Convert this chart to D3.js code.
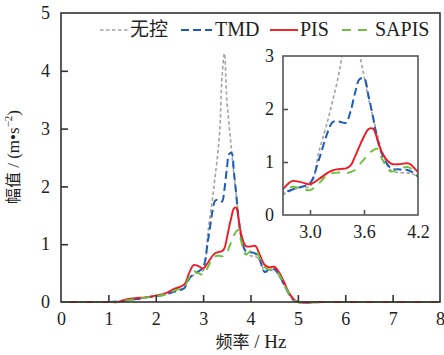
<!DOCTYPE html>
<html>
<head>
<meta charset="utf-8">
<script src="https://cdn.jsdelivr.net/npm/d3@7"></script>
<style>
  html, body { margin: 0; padding: 0; background: #fff; }
  svg { display: block; }
  text { font-family: "Liberation Serif", "Times New Roman", "Noto Sans CJK SC", serif; fill: #222; }
</style>
</head>
<body>
<svg id="chart" width="444" height="355"></svg>
<script>
// Frequency grid (Hz) shared by all series
const freq = [0, 0.5, 1.0, 1.2, 1.4, 1.6, 1.8, 2.0, 2.2, 2.4, 2.6, 2.7, 2.8, 2.9, 3.0, 3.1, 3.2, 3.25, 3.3, 3.35, 3.4, 3.45, 3.5, 3.55, 3.6, 3.65, 3.7, 3.75, 3.8, 3.9, 4.0, 4.1, 4.2, 4.3, 4.4, 4.5, 4.6, 4.7, 4.8, 4.9, 5.0, 5.5, 6, 7, 8];

// Amplitude spectra (m·s^-2)
const uncontrolled = [0, 0, 0, 0.01, 0.04, 0.06, 0.08, 0.10, 0.13, 0.19, 0.25, 0.38, 0.47, 0.52, 0.54, 1.20, 1.80, 2.15, 2.50, 2.95, 3.90, 4.30, 3.50, 3.05, 2.62, 2.20, 1.85, 1.50, 1.20, 0.84, 0.80, 0.79, 0.72, 0.52, 0.54, 0.56, 0.45, 0.30, 0.15, 0.04, 0, 0, 0, 0, 0];
const tmd          = [0, 0, 0, 0.01, 0.03, 0.05, 0.08, 0.10, 0.13, 0.18, 0.24, 0.40, 0.48, 0.53, 0.60, 1.05, 1.58, 1.75, 1.77, 1.75, 1.74, 1.95, 2.30, 2.56, 2.58, 2.25, 1.85, 1.42, 1.15, 0.88, 0.86, 0.84, 0.72, 0.52, 0.57, 0.57, 0.47, 0.32, 0.16, 0.04, 0, 0, 0, 0, 0];
const pis          = [0, 0, 0, 0, 0.05, 0.07, 0.08, 0.11, 0.15, 0.23, 0.30, 0.49, 0.64, 0.62, 0.58, 0.68, 0.80, 0.84, 0.86, 0.87, 0.88, 0.93, 1.10, 1.30, 1.48, 1.62, 1.63, 1.42, 1.18, 0.97, 0.96, 0.97, 0.81, 0.64, 0.60, 0.61, 0.52, 0.36, 0.18, 0.06, 0, 0, 0, 0, 0];
const sapis        = [0, 0, 0, 0, 0.03, 0.05, 0.08, 0.10, 0.13, 0.20, 0.26, 0.42, 0.53, 0.50, 0.47, 0.60, 0.77, 0.79, 0.80, 0.80, 0.79, 0.81, 0.85, 0.95, 1.05, 1.15, 1.22, 1.25, 1.06, 0.82, 0.88, 0.90, 0.75, 0.60, 0.56, 0.57, 0.48, 0.33, 0.17, 0.05, 0, 0, 0, 0, 0];

const seriesNames = ["无控", "TMD", "PIS", "SAPIS"];
const mainXTicks = [0, 1, 2, 3, 4, 5, 6, 7, 8];
const mainYTicks = [0, 1, 2, 3, 4, 5];
const insetXTicks = [3.0, 3.6, 4.2];
const insetYTicks = [0, 1, 2, 3];

const styles = [
  { color: "#a3a3a3", width: 1.6, dash: "3.5,2.5" },
  { color: "#1e5cb8", width: 2.0, dash: "8,4" },
  { color: "#ee1c24", width: 1.9, dash: null },
  { color: "#6cbf3f", width: 1.9, dash: "9,7" }
];
const seriesData = [uncontrolled, tmd, pis, sapis];

const serif = '"Liberation Serif", "Times New Roman", serif';
const cjk = '"Noto Sans CJK SC", sans-serif';

const svg = d3.select("#chart");

// ---------- main panel ----------
const M = { left: 61, right: 440, top: 13, bottom: 302 };
const x = d3.scaleLinear().domain([0, 8]).range([M.left, M.right]);
const y = d3.scaleLinear().domain([0, 5]).range([M.bottom, M.top]);

const frameColor = "#333";

function drawLines(g, xs, ys) {
  seriesData.forEach((vals, i) => {
    const line = d3.line()
      .x((d, k) => xs(freq[k]))
      .y(d => ys(Math.max(0, d)))
      .curve(d3.curveCatmullRom.alpha(0.5));
    const p = g.append("path")
      .datum(vals)
      .attr("d", line)
      .attr("fill", "none")
      .attr("stroke", styles[i].color)
      .attr("stroke-width", styles[i].width)
      .attr("stroke-linejoin", "round");
    if (styles[i].dash) p.attr("stroke-dasharray", styles[i].dash);
  });
}

const mainG = svg.append("g");
drawLines(mainG, x, y);

// frame
svg.append("rect")
  .attr("x", M.left).attr("y", M.top)
  .attr("width", M.right - M.left).attr("height", M.bottom - M.top)
  .attr("fill", "none").attr("stroke", frameColor).attr("stroke-width", 1.6);

// inward ticks
const xAxis = d3.axisBottom(x).tickValues(mainXTicks).tickSizeInner(-7).tickSizeOuter(0).tickPadding(10).tickFormat(d3.format("d"));
const gx = svg.append("g").attr("transform", `translate(0,${M.bottom})`).call(xAxis);
gx.select(".domain").remove();
gx.selectAll(".tick line").attr("stroke", frameColor).attr("stroke-width", 1.6)
  .filter(d => d === 0 || d === 8).remove();
gx.selectAll(".tick text").attr("font-size", 18).attr("fill", "#222").style("font-family", serif);

const yAxis = d3.axisLeft(y).tickValues(mainYTicks).tickSizeInner(-7).tickSizeOuter(0).tickPadding(11).tickFormat(d3.format("d"));
const gy = svg.append("g").attr("transform", `translate(${M.left},0)`).call(yAxis);
gy.select(".domain").remove();
gy.selectAll(".tick line").attr("stroke", frameColor).attr("stroke-width", 1.6)
  .filter(d => d === 0 || d === 5).remove();
gy.selectAll(".tick text").attr("font-size", 18).attr("fill", "#222").style("font-family", serif);

// axis titles
const xt = svg.append("text")
  .attr("x", 251).attr("y", 348)
  .attr("text-anchor", "middle").attr("font-size", 19);
xt.append("tspan").style("font-family", cjk).attr("font-size", 17).text("频率");
xt.append("tspan").text(" / Hz");

const yt = svg.append("text")
  .attr("transform", "translate(19,157) rotate(-90)")
  .attr("text-anchor", "middle").attr("font-size", 17);
yt.append("tspan").style("font-family", cjk).attr("font-size", 16).text("幅值");
yt.append("tspan").text(" / (m•s");
yt.append("tspan").attr("font-size", 11).attr("dy", -7).text("−2");
yt.append("tspan").attr("dy", 7).text(")");

// ---------- legend ----------
const legendItems = [
  { x0: 100, x1: 128, tx: 130 },
  { x0: 181, x1: 212, tx: 215 },
  { x0: 270, x1: 298, tx: 300 },
  { x0: 342, x1: 373, tx: 375 }
];
const legendY = 30;
legendItems.forEach((it, i) => {
  const l = svg.append("line")
    .attr("x1", it.x0).attr("x2", it.x1).attr("y1", legendY).attr("y2", legendY)
    .attr("stroke", styles[i].color).attr("stroke-width", styles[i].width);
  if (styles[i].dash) l.attr("stroke-dasharray", styles[i].dash);
  const t = svg.append("text")
    .attr("x", it.tx).attr("y", legendY + 6)
    .attr("font-size", 20)
    .text(seriesNames[i]);
  if (i === 0) t.style("font-family", cjk).attr("font-size", 19);
});

// ---------- inset panel ----------
const I = { left: 283, right: 418, top: 56, bottom: 215 };
const xi = d3.scaleLinear().domain([2.7, 4.2]).range([I.left, I.right]);
const yi = d3.scaleLinear().domain([0, 3]).range([I.bottom, I.top]);

svg.append("rect")
  .attr("x", I.left).attr("y", I.top)
  .attr("width", I.right - I.left).attr("height", I.bottom - I.top)
  .attr("fill", "#fff");

svg.append("defs").append("clipPath").attr("id", "insetClip")
  .append("rect")
  .attr("x", I.left).attr("y", I.top)
  .attr("width", I.right - I.left).attr("height", I.bottom - I.top);

const insetG = svg.append("g").attr("clip-path", "url(#insetClip)");
drawLines(insetG, xi, yi);

const insetColor = "#555";
svg.append("rect")
  .attr("x", I.left).attr("y", I.top)
  .attr("width", I.right - I.left).attr("height", I.bottom - I.top)
  .attr("fill", "none").attr("stroke", insetColor).attr("stroke-width", 1.6);

const xiAxis = d3.axisBottom(xi).tickValues(insetXTicks).tickSizeInner(-5).tickSizeOuter(0).tickPadding(10).tickFormat(d3.format(".1f"));
const gxi = svg.append("g").attr("transform", `translate(0,${I.bottom})`).call(xiAxis);
gxi.select(".domain").remove();
gxi.selectAll(".tick line").attr("stroke", insetColor).attr("stroke-width", 1.6)
  .filter(d => d === 4.2).remove();
gxi.selectAll(".tick text").attr("font-size", 18).attr("fill", "#222").style("font-family", serif);

const yiAxis = d3.axisLeft(yi).tickValues(insetYTicks).tickSizeInner(-5).tickSizeOuter(0).tickPadding(9).tickFormat(d3.format("d"));
const gyi = svg.append("g").attr("transform", `translate(${I.left},0)`).call(yiAxis);
gyi.select(".domain").remove();
gyi.selectAll(".tick line").attr("stroke", insetColor).attr("stroke-width", 1.6)
  .filter(d => d === 0 || d === 3).remove();
gyi.selectAll(".tick text").attr("font-size", 18).attr("fill", "#222").style("font-family", serif);
</script>
</body>
</html>
